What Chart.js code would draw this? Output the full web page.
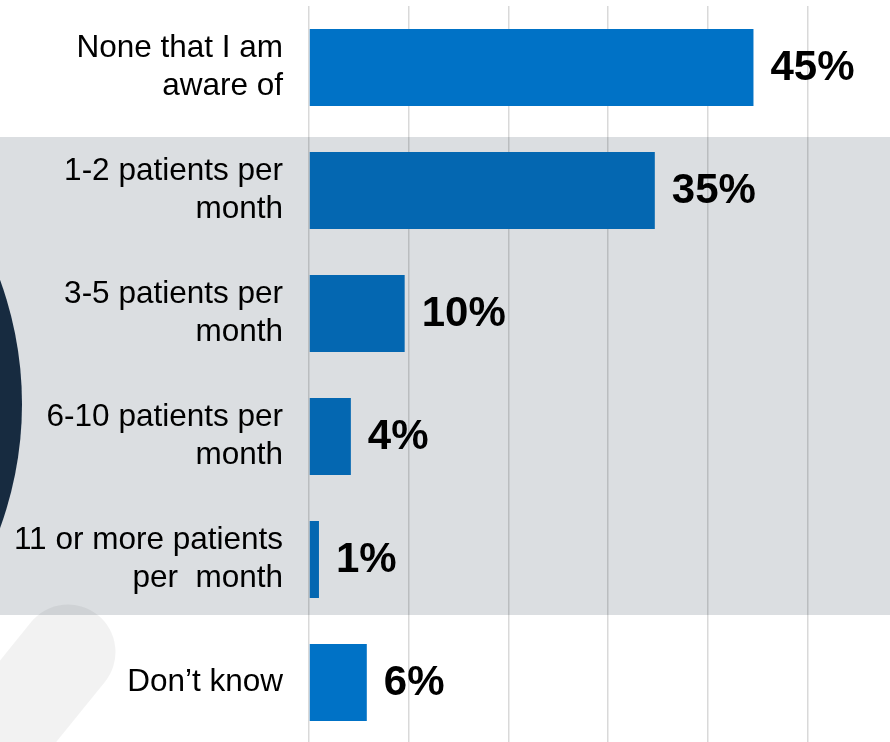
<!DOCTYPE html>
<html>
<head>
<meta charset="utf-8">
<script src="https://cdn.jsdelivr.net/npm/chart.js@4"></script>
<style>
  html, body { margin: 0; padding: 0; background: #fff; overflow: hidden; }
  #wrap { width: 890px; height: 742px; overflow: hidden; }
</style>
</head>
<body>
<div id="wrap"><canvas id="chart" width="890" height="744"></canvas></div>
<script>
  const categories = [
    ["None that I am", "aware of"],
    ["1-2 patients per", "month"],
    ["3-5 patients per", "month"],
    ["6-10 patients per", "month"],
    ["11 or more patients", "per  month"],
    ["Don\u2019t know"]
  ];
  const values = [44.6, 34.7, 9.6, 4.2, 1.0, 5.8];
  const valueLabels = ["45%", "35%", "10%", "4%", "1%", "6%"];
  const barColors = ["#0072C6", "#0467B1", "#0467B1", "#0467B1", "#0467B1", "#0072C6"];

  const FONT = "'Liberation Sans', Arial, Helvetica, sans-serif";

  // slide background: grey band, dark circle, faint swoosh
  const backdrop = {
    id: "backdrop",
    beforeDraw(chart) {
      const ctx = chart.ctx;
      ctx.save();
      ctx.fillStyle = "#fff";
      ctx.fillRect(0, 0, chart.width, chart.height);
      ctx.fillStyle = "#DBDEE1";
      ctx.fillRect(0, 137, chart.width, 478);
      ctx.fillStyle = "#172B40";
      ctx.beginPath();
      ctx.arc(-340, 404, 362, 0, Math.PI * 2);
      ctx.fill();
      ctx.strokeStyle = "rgba(0,0,0,0.05)";
      ctx.lineWidth = 95;
      ctx.lineCap = "round";
      ctx.beginPath();
      ctx.moveTo(68, 652);
      ctx.lineTo(-60, 810);
      ctx.stroke();
      ctx.restore();
    }
  };

  const valueText = {
    id: "valueText",
    afterDatasetsDraw(chart) {
      const ctx = chart.ctx;
      const meta = chart.getDatasetMeta(0);
      ctx.save();
      ctx.fillStyle = "#000";
      ctx.font = "bold 42px " + FONT;
      ctx.textAlign = "left";
      ctx.textBaseline = "middle";
      meta.data.forEach((bar, i) => {
        ctx.fillText(valueLabels[i], bar.x + 17, bar.y + 1);
      });
      ctx.restore();
    }
  };

  const noPad = (s) => {
    s.paddingTop = 0;
    s.paddingBottom = 0;
    s.paddingLeft = 0;
    s.paddingRight = 0;
  };

  new Chart(document.getElementById("chart"), {
    type: "bar",
    data: {
      labels: categories,
      datasets: [{
        data: values,
        backgroundColor: barColors,
        borderWidth: 0,
        categoryPercentage: 1,
        barPercentage: 0.626
      }]
    },
    options: {
      indexAxis: "y",
      responsive: false,
      animation: false,
      layout: { padding: { top: 6, left: 0, right: 0, bottom: 0 } },
      scales: {
        x: {
          min: 0,
          max: 58.3,
          afterBuildTicks: (s) => { s.ticks = s.ticks.filter((t) => t.value % 10 === 0); },
          afterFit: (s) => { s.height = 0; noPad(s); },
          ticks: { display: false, stepSize: 10 },
          grid: { color: "rgba(0,0,0,0.15)", lineWidth: 1.5, drawTicks: false },
          border: { display: false }
        },
        y: {
          afterFit: (s) => { s.width = 309; noPad(s); },
          grid: { display: false, drawTicks: false },
          border: { display: false },
          ticks: {
            color: "#000",
            padding: 26,
            font: { family: FONT, size: 31.5, lineHeight: 1.2 }
          }
        }
      },
      plugins: {
        legend: { display: false },
        tooltip: { enabled: false }
      }
    },
    plugins: [backdrop, valueText]
  });
</script>
</body>
</html>
